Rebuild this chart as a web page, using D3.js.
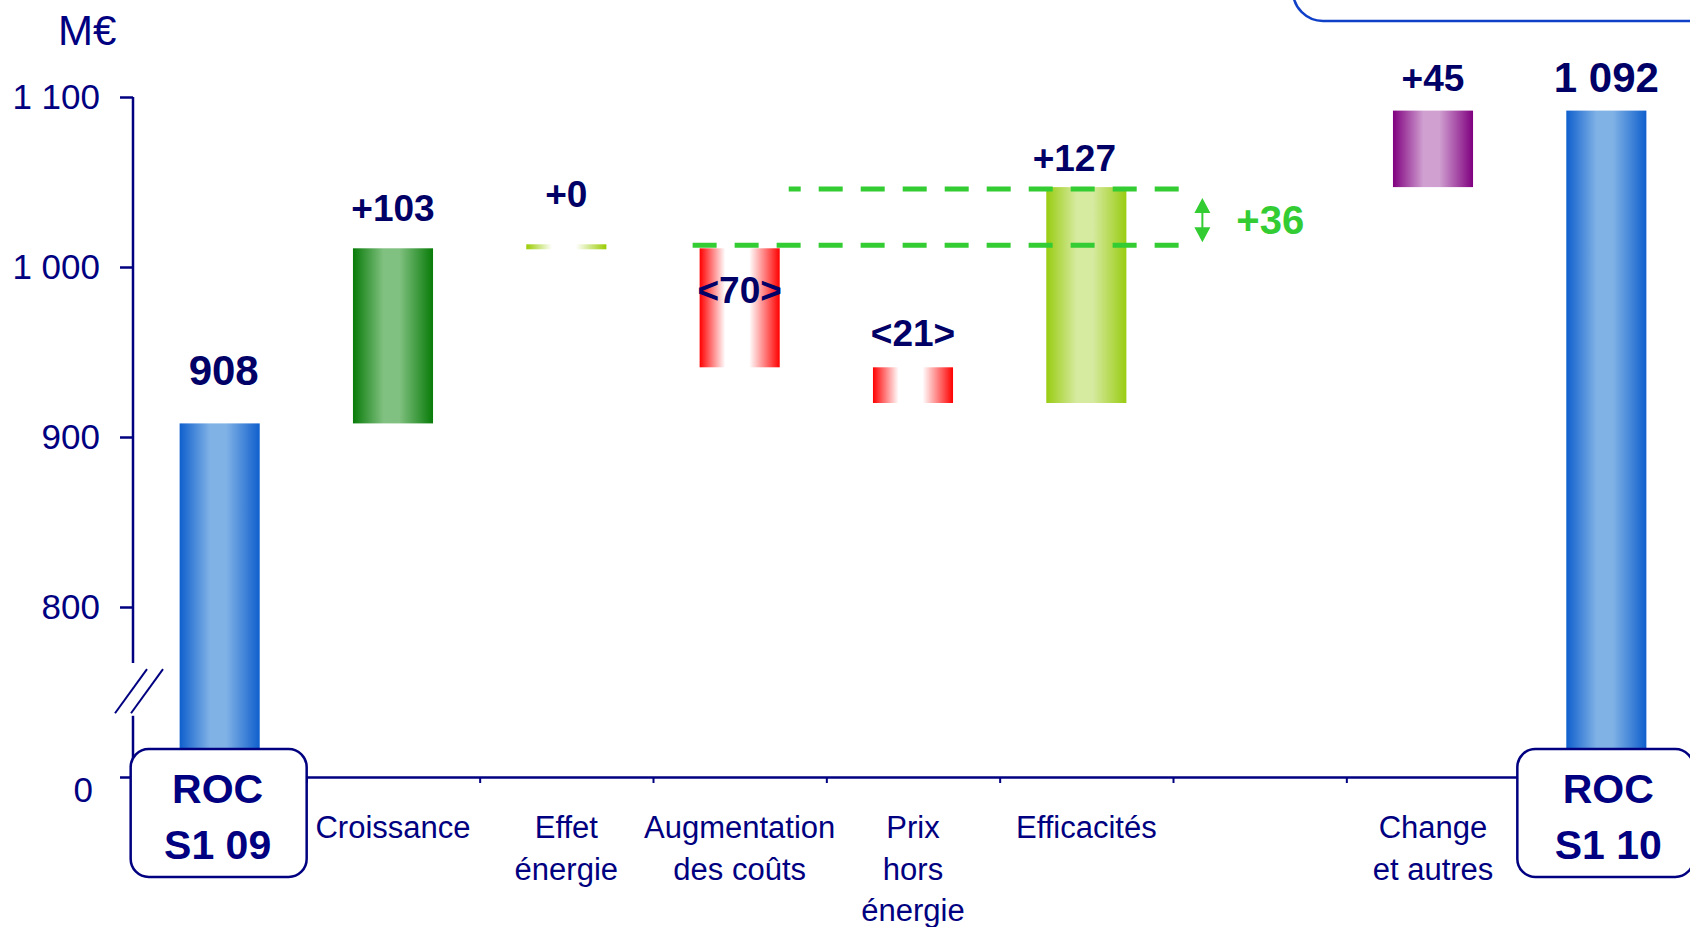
<!DOCTYPE html>
<meta charset="utf-8">
<style>
body{margin:0;background:#fff;}
text{font-family:"Liberation Sans",Arial,sans-serif;}
.tick text{fill:#000080;font-size:35px;}
.catLabel{fill:#000080;font-size:31px;text-anchor:middle;}
.val{fill:#000066;font-weight:bold;text-anchor:middle;}
.roc{fill:#000080;font-weight:bold;font-size:41px;text-anchor:middle;}
</style>
<body>
<script src="https://cdn.jsdelivr.net/npm/d3@7"></script>
<script>

// categories of the bridge, one empty slot between Efficacités and Change
var keys = ["roc09","croissance","effet","augm","prix","effic","vide","change","roc10"];
var catLines = [[],["Croissance"],["Effet","énergie"],["Augmentation","des coûts"],["Prix","hors","énergie"],["Efficacités"],[],["Change","et autres"],[]];
var kinds = ["total","delta","delta","delta","delta","delta","none","delta","total"];
var values = [908, 103, 0, -70, -21, 127, null, 45, 1092];
var valueLabels = ["908","+103","+0","<70>","<21>","+127","","+45","1 092"];
var grads = ["blue","green","lime","red","red","effic","","purple","blue"];
var rocBoxes = [["ROC","S1 09"], ["ROC","S1 10"]];
var yTicks = [0, 800, 900, 1000, 1100];
var yTickLabels = ["0","800","900","1 000","1 100"];
var extra = {from: 1011, to: 1047, label: "+36"};

var W = 1690, H = 927;
var svg = d3.select("body").append("svg").attr("width", W).attr("height", H);

var defs = svg.append("defs");
var gradStops = {
	blue:   ["#0f5fcd","#80b2e6","#80b2e6","#0f5fcd"],
	green:  ["#087c08","#80c080","#80c080","#087c08"],
	lime:   ["#99cc00","#ffffff","#ffffff","#99cc00"],
	red:    ["#ff0000","#ffffff","#ffffff","#ff0000"],
	effic:  ["#99cc11","#d6eaa0","#d6eaa0","#99cc11"],
	purple: ["#800080","#d0a0d0","#d0a0d0","#800080"]
};
var gradOffsets = {red:[0,0.32,0.62,1], lime:[0,0.32,0.62,1]};
Object.keys(gradStops).forEach(function(k){
	var lg = defs.append("linearGradient").attr("id","g_"+k)
		.attr("x1",0).attr("x2",1).attr("y1",0).attr("y2",0);
	(gradOffsets[k]||[0,0.38,0.58,1]).forEach(function(o,i){
		lg.append("stop").attr("offset",o).attr("stop-color",gradStops[k][i]);
	});
});

// scales: y is broken between 0 and 700
var x = d3.scaleBand().domain(keys).range([133, 1693]).paddingInner(0.538).paddingOuter(0.269);
var xEdge = d3.scaleLinear().domain([0, keys.length]).range([133, 1693]);
var y = d3.scaleLinear().domain([0, 700, 1100]).range([777, 777, 97]);

// running totals
var bars = [];
var run = 0;
keys.forEach(function(k,i){
	if(kinds[i]=="total"){ bars.push({k:k,i:i,lo:0,hi:values[i]}); run = values[i]; }
	else if(kinds[i]=="delta"){
		var a = run, b = run + values[i];
		bars.push({k:k,i:i,lo:Math.min(a,b),hi:Math.max(a,b)});
		run = b;
	}
});

// bars
svg.append("g").selectAll("rect").data(bars).enter().append("rect")
	.attr("x", d=>x(d.k))
	.attr("width", x.bandwidth())
	.attr("y", d=> d.hi==d.lo ? y(d.hi)-4 : y(d.hi))
	.attr("height", d=> d.hi==d.lo ? 5 : y(d.lo)-y(d.hi))
	.attr("fill", d=>"url(#g_"+grads[d.i]+")");

// y axis
var yAxis = d3.axisLeft(y).tickValues(yTicks).tickSize(13).tickPadding(20)
	.tickFormat((d,i)=>yTickLabels[i]);
var ga = svg.append("g").attr("transform","translate(133,0)").call(yAxis);
ga.select(".domain").remove();
ga.selectAll(".tick line").attr("stroke","#000080").attr("stroke-width",2.5);
ga.selectAll(".tick text").filter(d=>d==0).attr("dy","0.7em").attr("x",-40);
ga.append("line").attr("y1",y(1100)).attr("y2",y(767)).attr("stroke","#000080").attr("stroke-width",2.5);
ga.append("line").attr("y1",y(736)).attr("y2",y(0)).attr("stroke","#000080").attr("stroke-width",2.5);
[0,16].forEach(function(o){
	ga.append("line").attr("x1",-18+o).attr("y1",y(737.5)).attr("x2",14+o).attr("y2",y(763.5))
		.attr("stroke","#000080").attr("stroke-width",2);
});

svg.append("text").attr("x",58).attr("y",45).attr("fill","#000080")
	.style("font-size","42px").text("M€");

// x axis (zero line)
var xAxis = d3.axisBottom(xEdge).tickValues(d3.range(1, keys.length)).tickSize(6).tickSizeOuter(0).tickFormat("");
var gx = svg.append("g").attr("transform","translate(0,"+y(0)+")").call(xAxis);
gx.select(".domain").attr("stroke","#000080").attr("stroke-width",2.5);
gx.selectAll(".tick line").attr("stroke","#000080").attr("stroke-width",2);

// category labels
keys.forEach(function(k,i){
	var t = svg.append("text").attr("class","catLabel")
		.attr("x", x(k)+x.bandwidth()/2).attr("y", 838);
	catLines[i].forEach(function(s,j){
		t.append("tspan").attr("x", x(k)+x.bandwidth()/2).attr("dy", j==0 ? 0 : 41.5).text(s);
	});
});

// ROC boxes
[0, keys.length-1].forEach(function(i,j){
	var cx = x(keys[i])+x.bandwidth()/2;
	svg.append("rect").attr("x",cx-89).attr("y",749).attr("width",176).attr("height",128)
		.attr("rx",18).attr("fill","#fff").attr("stroke","#000080").attr("stroke-width",2.5);
	svg.append("text").attr("class","roc").attr("x",cx+(j?2:-2)).attr("y",803).text(rocBoxes[j][0]);
	svg.append("text").attr("class","roc").attr("x",cx+(j?2:-2)).attr("y",859).text(rocBoxes[j][1]);
});

// value labels
var labelDy = {roc09:-38, croissance:-27, effet:-41, augm:55, prix:-21, effic:-16, change:-20, roc10:-19};
var labelDx = {effic:-12, roc09:4};
bars.forEach(function(d){
	var tot = kinds[d.i]=="total";
	svg.append("text").attr("class","val")
		.attr("x", x(d.k)+x.bandwidth()/2+(labelDx[d.k]||0))
		.attr("y", y(d.hi)+labelDy[d.k])
		.style("font-size", tot ? "42px" : "37px")
		.text(valueLabels[d.i]);
});

// dashed reference lines and +36 marker
var green = "#33cc33";
var xEnd = x("effic")+x.bandwidth()+54;
svg.append("line").attr("x1", x("augm")-7).attr("x2", xEnd)
	.attr("y1", y(extra.from)-3).attr("y2", y(extra.from)-3)
	.attr("stroke",green).attr("stroke-width",5).attr("stroke-dasharray","24 18");
svg.append("line").attr("x1", x("augm")+x.bandwidth()+9).attr("x2", xEnd)
	.attr("y1", y(extra.to)+2).attr("y2", y(extra.to)+2)
	.attr("stroke",green).attr("stroke-width",5).attr("stroke-dasharray","24 18").attr("stroke-dashoffset",12);

var ax = x("effic")+x.bandwidth()+76;
var ya = y(extra.to)+11, yb = y(extra.from)-6;
svg.append("path")
	.attr("d","M"+ax+","+ya+"l-8,15h16z M"+ax+","+yb+"l-8,-15h16z")
	.attr("fill",green);
svg.append("line").attr("x1",ax).attr("x2",ax).attr("y1",ya+10).attr("y2",yb-10)
	.attr("stroke",green).attr("stroke-width",2);
svg.append("text").attr("x", ax+34).attr("y", (ya+yb)/2+14).attr("fill",green)
	.style("font-size","40px").style("font-weight","bold").text(extra.label);

// top-right box, cut by the page edge
svg.append("rect").attr("x",1293).attr("y",-60).attr("width",500).attr("height",81)
	.attr("rx",30).attr("fill","none").attr("stroke","#1040c8").attr("stroke-width",2.5);

</script>
</body>
